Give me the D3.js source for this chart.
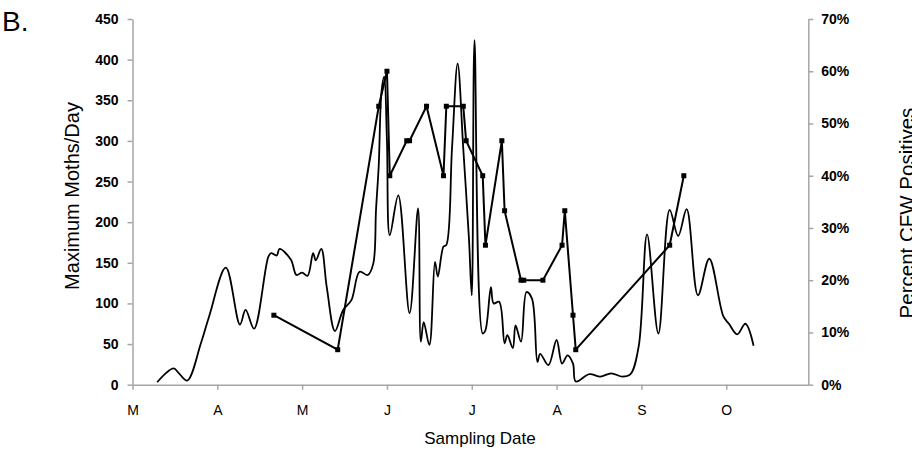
<!DOCTYPE html>
<html>
<head>
<meta charset="utf-8">
<script src="https://cdn.jsdelivr.net/npm/d3@7"></script>
<style>
  body { margin: 0; background: #fff; }
  svg { font-family: "Liberation Sans", Arial, sans-serif; }
</style>
</head>
<body>
<div id="chart"></div>
<script>
// Maximum moths per day (smoothed line, left axis)
const mothDates = [
  "03-10", "03-16", "03-18", "03-21", "03-26", "03-29", "04-04", "04-09", "04-11", "04-14",
  "04-19", "04-20", "04-22", "04-23", "04-27", "04-29", "05-01", "05-03", "05-05", "05-06",
  "05-08", "05-10", "05-13", "05-16", "05-19", "05-22", "05-25", "05-27", "05-28", "05-29",
  "05-30", "05-31", "06-01", "06-02", "06-05", "06-09", "06-12", "06-13", "06-14", "06-16",
  "06-18", "06-19", "06-21", "06-22", "06-24", "06-26", "06-28", "06-30", "07-01", "07-02",
  "07-05", "07-06", "07-08", "07-09", "07-11", "07-13", "07-14", "07-16", "07-17", "07-19",
  "07-21", "07-23", "07-25", "07-26", "07-29", "08-01", "08-03", "08-05", "08-07", "08-08",
  "08-13", "08-17", "08-21", "08-25", "08-28", "08-31", "09-03", "09-07", "09-11", "09-14",
  "09-17", "09-21", "09-25", "09-30", "10-02", "10-05", "10-08", "10-11"
];
const mothCounts = [
  3, 20, 14, 5, 51, 84, 144, 74, 92, 69,
  157, 162, 159, 167, 154, 135, 138, 134, 162, 153,
  167, 120, 66, 92, 104, 139, 135, 149, 215, 270,
  360, 379, 300, 184, 233, 88, 217, 53, 77, 49,
  151, 133, 170, 172, 290, 395, 290, 180, 110, 424,
  63, 67, 120, 100, 102, 51, 61, 45, 73, 53,
  114, 106, 28, 38, 24, 55, 26, 36, 26, 4,
  13, 10, 14, 10, 13, 47, 185, 63, 215, 183,
  216, 110, 155, 84, 75, 62, 75, 48
];

// Percent CFW positives (markers, right axis)
const cfwDates = [
  "04-21", "05-14", "05-29", "06-01", "06-02", "06-08", "06-09", "06-15", "06-21", "06-22",
  "06-28", "06-29", "07-05", "07-06", "07-12", "07-13", "07-19", "07-20", "07-27", "08-03",
  "08-04", "08-07", "08-08", "09-11", "09-16"
];
const cfwPercent = [
  13.3, 6.7, 53.3, 60, 40, 46.7, 46.7, 53.3, 40, 53.3,
  53.3, 46.7, 40, 26.7, 46.7, 33.3, 20, 20, 20, 26.7,
  33.3, 13.3, 6.7, 26.7, 40
];

const monthLabels = ["M", "A", "M", "J", "J", "A", "S", "O"];
const countTicks = [0, 50, 100, 150, 200, 250, 300, 350, 400, 450];
const percentTicks = [0, 10, 20, 30, 40, 50, 60, 70];

// months Mar..Oct are spaced evenly on the axis
const daysInMonth = [31, 30, 31, 30, 31, 31, 30, 31];
function monthPos(s) {
  const [m, d] = s.split("-").map(Number);
  return (m - 3) + (d - 1) / daysInMonth[m - 3];
}

const W = 912, H = 467;
const plot = { left: 132.5, right: 808.3, top: 19, bottom: 384.7 };
const axisGray = "#a6a6a6";

const svg = d3.select("#chart").append("svg")
  .attr("width", W)
  .attr("height", H);

const xScale = d3.scaleLinear()
  .domain([0, monthPos("10-31")])
  .range([plot.left, plot.right]);

const yLeft = d3.scaleLinear()
  .domain([0, 450])
  .range([plot.bottom, plot.top]);

const yRight = d3.scaleLinear()
  .domain([0, 70])
  .range([plot.bottom, plot.top]);

// axes
const xAxis = svg.append("g")
  .attr("transform", `translate(0,${plot.bottom})`)
  .call(d3.axisBottom(xScale)
    .tickValues(d3.range(monthLabels.length))
    .tickFormat(i => monthLabels[i])
    .tickSize(5).tickSizeOuter(0).tickPadding(15));
xAxis.selectAll("text").attr("font-size", 14).attr("font-family", null);

const leftAxis = svg.append("g")
  .attr("transform", `translate(${plot.left},0)`)
  .call(d3.axisLeft(yLeft)
    .tickValues(countTicks)
    .tickSize(5).tickSizeOuter(0).tickPadding(9));
leftAxis.selectAll("text").attr("font-size", 14).attr("font-weight", "bold").attr("font-family", null);

const rightAxis = svg.append("g")
  .attr("transform", `translate(${plot.right},0)`)
  .call(d3.axisRight(yRight)
    .tickValues(percentTicks)
    .tickFormat(d => d + "%")
    .tickSize(5).tickSizeOuter(0).tickPadding(8));
rightAxis.selectAll("text").attr("font-size", 14).attr("font-weight", "bold").attr("font-family", null);

svg.selectAll(".domain, .tick line")
  .attr("stroke", axisGray)
  .attr("stroke-width", 1.5);
svg.selectAll(".tick text").attr("fill", "#000");

// moth line
const mothData = mothDates.map((d, i) => ({ date: d, value: mothCounts[i] }));
const mothLine = d3.line()
  .x(d => xScale(monthPos(d.date)))
  .y(d => yLeft(d.value))
  .curve(d3.curveCatmullRom.alpha(0.5));

svg.append("path")
  .datum(mothData)
  .attr("fill", "none")
  .attr("stroke", "#000")
  .attr("stroke-width", 1.8)
  .attr("d", mothLine);

// CFW line + square markers
const cfwData = cfwDates.map((d, i) => ({ date: d, value: cfwPercent[i] }));
const cfwLine = d3.line()
  .x(d => xScale(monthPos(d.date)))
  .y(d => yRight(d.value));

svg.append("path")
  .datum(cfwData)
  .attr("fill", "none")
  .attr("stroke", "#000")
  .attr("stroke-width", 2)
  .attr("d", cfwLine);

const mk = 5;
svg.selectAll("rect.marker")
  .data(cfwData)
  .join("rect")
  .attr("class", "marker")
  .attr("x", d => xScale(monthPos(d.date)) - mk / 2)
  .attr("y", d => yRight(d.value) - mk / 2)
  .attr("width", mk)
  .attr("height", mk)
  .attr("fill", "#000");

// titles
svg.append("text")
  .attr("transform", "translate(79,196) rotate(-90)")
  .attr("text-anchor", "middle")
  .attr("font-size", 20)
  .text("Maximum Moths/Day");

svg.append("text")
  .attr("transform", "translate(914,213) rotate(-90)")
  .attr("text-anchor", "middle")
  .attr("font-size", 20.5)
  .text("Percent CFW Positives");

svg.append("text")
  .attr("x", 480)
  .attr("y", 444)
  .attr("text-anchor", "middle")
  .attr("font-size", 17)
  .text("Sampling Date");

svg.append("text")
  .attr("x", 2)
  .attr("y", 31)
  .attr("font-size", 28)
  .text("B.");
</script>
</body>
</html>
